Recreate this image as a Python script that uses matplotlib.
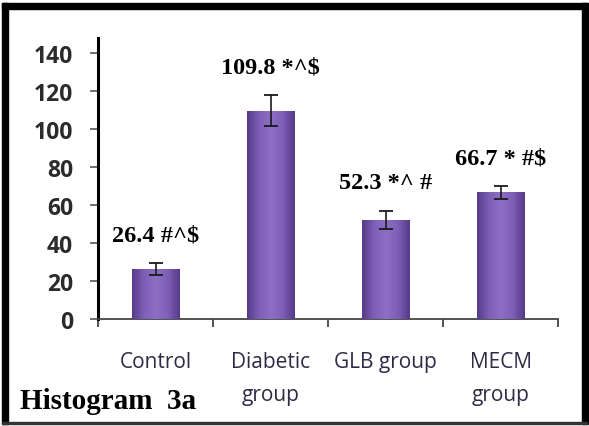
import numpy as np
import matplotlib
matplotlib.use("Agg")
import matplotlib.pyplot as plt
from matplotlib.patches import Rectangle
from matplotlib.colors import LinearSegmentedColormap

# Data
categories = ["Control", "Diabetic\ngroup", "GLB group", "MECM\ngroup"]
means = [26.4, 109.8, 52.3, 66.7]
errors = [3.0, 8.0, 4.8, 3.3]
labels = ["26.4 #^$", "109.8 *^$", "52.3 *^ #", "66.7 * #$"]
yticks = [0, 20, 40, 60, 80, 100, 120, 140]

fig = plt.figure(figsize=(5.89, 4.27), dpi=100)
fig.patch.set_facecolor("white")

ax = fig.add_axes([0.1664, 0.2506, 0.781, 0.658])
x = np.arange(len(categories))
width = 0.41

bars = ax.bar(x, means, width=width, color="#7152a8", edgecolor="none", zorder=2)

# horizontal shading inside each bar
cmap = LinearSegmentedColormap.from_list(
    "barshade", ["#553a88", "#7d5fb6", "#8d70c4", "#7d5fb6", "#553a88"])
grad = np.linspace(0, 1, 256).reshape(1, -1)
for b in bars:
    x0, y0 = b.get_x(), b.get_y()
    w, h = b.get_width(), b.get_height()
    im = ax.imshow(grad, cmap=cmap, aspect="auto",
                   extent=[x0, x0 + w, y0, y0 + h], zorder=3)
    im.set_clip_path(b)
    b.set_facecolor("none")

ax.errorbar(x, means, yerr=errors, fmt="none", ecolor="#1a1a1a",
            elinewidth=1.2, capsize=5, capthick=1.3, zorder=4)

for xi, m, e, lab in zip(x, means, errors, labels):
    ax.text(xi, m + e + 15, lab, ha="center", va="center",
            fontsize=17.5, fontweight="bold", family="Liberation Serif",
            color="black")

ax.set_xlim(-0.5, len(categories) - 0.5)
ax.set_ylim(0, 148)
ax.set_yticks(yticks)
ax.set_yticklabels([str(t) for t in yticks], fontsize=16.5,
                   fontweight="bold", family="Open Sans", color="#2b2b2b")
ax.tick_params(axis="y", direction="out", length=6, width=1.2,
               color="#555555", pad=12)

ax.set_xticks(x)
ax.set_xticklabels(categories, fontsize=15, family="Open Sans",
                   color="#2f2a45", linespacing=1.75)
ax.tick_params(axis="x", length=0, pad=23)
ax.set_xticks(np.arange(len(categories) + 1) - 0.5, minor=True)
ax.tick_params(axis="x", which="minor", direction="out", length=6,
               width=1.2, color="#333333")

for s in ["top", "right"]:
    ax.spines[s].set_visible(False)
ax.spines["left"].set_linewidth(2.2)
ax.spines["left"].set_color("black")
ax.spines["bottom"].set_linewidth(1.3)
ax.spines["bottom"].set_color("#444444")

fig.text(20 / 589, 1 - 409 / 427, "Histogram  3a", ha="left", va="baseline",
         fontsize=21, fontweight="bold", family="Liberation Serif",
         color="black")

# outer frame
W, H = 589, 427
def frect(x0, y0, w, h, color):
    fig.patches.append(Rectangle((x0 / W, 1 - (y0 + h) / H), w / W, h / H,
                                 transform=fig.transFigure, color=color,
                                 zorder=10))
frect(2, 4, 585, 6, "black")       # top
frect(2, 4, 6, 421, "black")       # left
frect(582, 4, 6, 421, "black")     # right
frect(2, 423, 585, 2, "#333333")   # bottom

fig.savefig("out.png", dpi=100, facecolor="white")
